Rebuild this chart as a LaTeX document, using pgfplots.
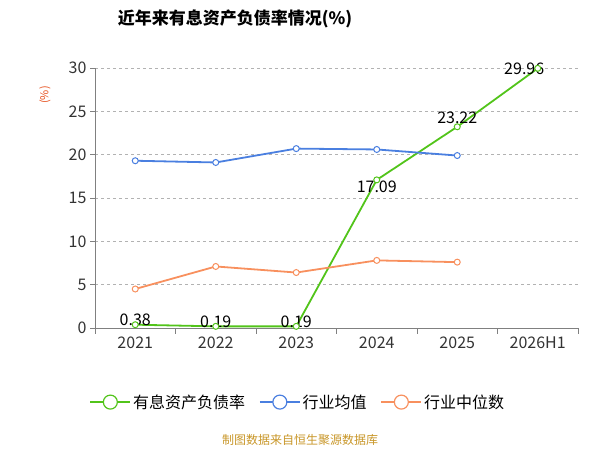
\documentclass[border=0pt]{standalone}
\usepackage{fontspec}
\setmainfont{Noto Sans CJK SC}
\usepackage{pgfplots}
\pgfplotsset{compat=1.18}
\definecolor{cg}{HTML}{52C41A}
\definecolor{cb}{HTML}{4A7FE0}
\definecolor{co}{HTML}{F8905E}
\begin{document}
\begin{tikzpicture}[x=1pt,y=1pt]
\useasboundingbox (0,0) rectangle (600,450);
\begin{axis}[at={(95pt,122pt)},anchor=south west,scale only axis,width=483pt,height=260pt,
 xmin=-0.5,xmax=5.5,ymin=0,ymax=30,
 xtick={0,...,5},xticklabels={2021,2022,2023,2024,2025,2026H1},
 minor xtick={-0.5,0.5,...,5.5},
 ytick={0,5,...,30},
 major x tick style={draw=none},
 tick align=outside, major tick length=5pt, minor tick length=6pt,
 every tick/.style={gray},
 axis x line*=bottom, axis y line*=left,
 axis line style={gray},
 ymajorgrids, grid style={dashed,gray!60},
 ticklabel style={font=\fontsize{16}{16}\selectfont,text=black!80},
 /pgf/number format/assume math mode=true,
 clip=false,
 legend columns=3,
 legend style={at={(0.42,-0.285)},anchor=center,draw=none,font=\fontsize{16}{16}\selectfont,
   /tikz/every even column/.style={column sep=12pt}},
 ]
\addplot[cg,line width=1.8pt,mark=*,mark size=3pt,mark options={fill=white,line width=1pt},
 legend image code/.code={\draw[cg,line width=1.5pt] (0pt,0pt)--(40pt,0pt);\draw[cg,line width=1.2pt,fill=white] (20pt,0pt) circle (7pt);}]
 coordinates {(0,0.38)(1,0.19)(2,0.19)(3,17.09)(4,23.22)(5,29.96)};
\addlegendentry{有息资产负债率}
\addplot[cb,line width=1.8pt,mark=*,mark size=3pt,mark options={fill=white,line width=1pt},
 legend image code/.code={\draw[cb,line width=1.5pt] (0pt,0pt)--(40pt,0pt);\draw[cb,line width=1.2pt,fill=white] (20pt,0pt) circle (7pt);}]
 coordinates {(0,19.3)(1,19.1)(2,20.7)(3,20.6)(4,19.9)};
\addlegendentry{行业均值}
\addplot[co,line width=1.8pt,mark=*,mark size=3pt,mark options={fill=white,line width=1pt},
 legend image code/.code={\draw[co,line width=1.5pt] (0pt,0pt)--(40pt,0pt);\draw[co,line width=1.2pt,fill=white] (20pt,0pt) circle (7pt);}]
 coordinates {(0,4.5)(1,7.1)(2,6.4)(3,7.8)(4,7.6)};
\addlegendentry{行业中位数}
\begin{scope}[every node/.style={font=\fontsize{16}{16}\selectfont}]
\node at (axis cs:0,0.38) [above=-5pt] {0.38};
\node at (axis cs:1,0.19) [above=-5pt] {0.19};
\node at (axis cs:2,0.19) [above=-5pt] {0.19};
\node at (axis cs:3,17.09) [below=-3pt] {17.09};
\node at (axis cs:4,23.22) [above=0pt] {23.22};
\node at (axis cs:5,29.96) [left=-10pt] {29.96};
\end{scope}
\end{axis}
\node[font=\fontsize{17}{17}\selectfont\bfseries] at (235,431) {近年来有息资产负债率情况(\%)};
\node[font=\fontsize{11}{11}\selectfont,text={rgb,255:red,230;green,80;blue,30},rotate=90] at (45,355) {(\%)};
\node[font=\fontsize{12}{12}\selectfont,text={rgb,255:red,200;green,150;blue,40}] at (300,10) {制图数据来自恒生聚源数据库};
\end{tikzpicture}
\end{document}
